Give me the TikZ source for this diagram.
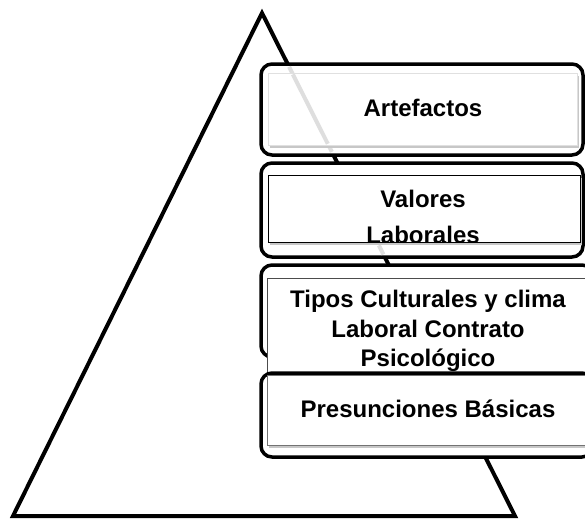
\documentclass[tikz,border=0pt]{standalone}
\usepackage{fontspec}
\setmainfont{Liberation Sans}
\usetikzlibrary{shadows,calc}

\begin{document}
\begin{tikzpicture}[x=1pt,y=-1pt,font=\bfseries\fontsize{24}{29.5}\selectfont,
    outer box/.style={draw,line width=3.5pt,rounded corners=11pt,fill=white,inner sep=0pt,outer sep=0pt},
    inner box/.style={draw=#1,line width=1pt,fill=white,inner sep=0pt,outer sep=0pt,drop shadow={shadow xshift=1.5pt,shadow yshift=-2.5pt,opacity=1,fill=black!22}},
    faint edge/.style={line width=4pt,black!13},
    label text/.style={inner sep=0pt,align=center}]
            \useasboundingbox (0,0) rectangle (585,520);

            \coordinate (apex) at (262,13);
            \coordinate (base left) at (13,516);
            \coordinate (base right) at (515,516);
            \draw[line width=4pt] (apex) -- (base right) -- (base left) -- cycle;

            \node[outer box,minimum width=322pt,minimum height=91pt] (artefactos) at (422,109.5) {};
            \draw[faint edge] ($(apex)!0.107!(base right)$) -- ($(apex)!0.276!(base right)$);
            \node[inner box=black!12,minimum width=309pt,minimum height=72pt] (artefactos in) at (422.5,109) {};
            \draw[faint edge] ($(apex)!0.122!(base right)$) -- ($(apex)!0.26!(base right)$);
            \node[label text,anchor=base] (artefactos text) at (423,116) {Artefactos};

            \node[outer box,minimum width=322pt,minimum height=94pt] (valores) at (422,210) {};
            \draw[faint edge] ($(apex)!0.462!(base right)$) -- ($(apex)!0.48!(base right)$);
            \node[inner box=black,minimum width=312pt,minimum height=67pt] (valores in) at (424,208.5) {};
            \begin{scope}
                \clip (valores in.south west) rectangle (valores in.north east);
                \node[label text,font=\bfseries\fontsize{24}{36}\selectfont] (valores text) at (423,216.5) {Valores\\Laborales};
            \end{scope}

            \node[outer box,minimum width=332pt,minimum height=92pt] (tipos) at (427,311) {};
            \node[inner box=black!70,minimum width=320pt,minimum height=97pt] (tipos in) at (427,326.5) {};
            \node[label text] (tipos text) at (428,331.3) {Tipos Culturales y clima\\Laboral Contrato\\Psicológico};

            \node[outer box,minimum width=332pt,minimum height=84pt] (presunciones) at (427,415) {};
            \node[inner box=black!55,minimum width=320pt,minimum height=70pt] (presunciones in) at (427,410) {};
            \node[label text,anchor=base] (presunciones text) at (428,417) {Presunciones Básicas};
        \end{tikzpicture}
\end{document}
